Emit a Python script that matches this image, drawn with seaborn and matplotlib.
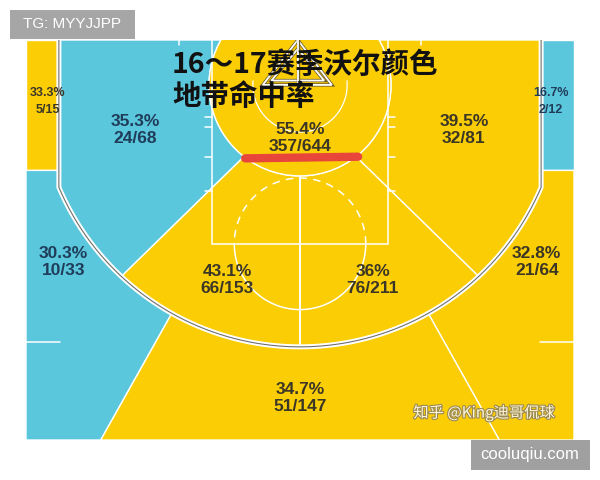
import numpy as np
import matplotlib.pyplot as plt
import matplotlib.patheffects as pe
from matplotlib.patches import Polygon, Circle, Arc, Rectangle
import seaborn as sns

# zone stats (Wall, 16-17 season)
zones = ["left_corner3", "right_corner3", "left_base_mid", "paint", "right_base_mid",
         "left_wing3", "left_elbow_mid", "right_elbow_mid", "right_wing3", "top3"]
made = [5, 2, 24, 357, 32, 10, 66, 76, 21, 51]
attempts = [15, 12, 68, 644, 81, 33, 153, 211, 64, 147]
hot = [True, False, False, True, True, False, True, True, True, True]

title_lines = ["16～17赛季沃尔颜色", "地带命中率"]

YELLOW = "#fbcd05"
BLUE = "#5bc7dd"
TXT_HOT = "#3b3626"
TXT_COLD = "#1f3c58"

# court geometry in feet, basket at origin, y grows toward half court
TOP, BOTTOM = -4.1, 32.4
R3, CX, R_IN = 23.9, 22.0, 8.3
CORNER_Y = 7.8
BREAK = np.degrees(np.arcsin(CX / R3))
YB = R3 * np.cos(np.radians(BREAK))
WING = 29.3
MID_IN, MID_OUT = 38.0, 43.0
A_TOP = np.degrees(np.arccos(TOP / R_IN))
XW = BOTTOM * np.tan(np.radians(WING))


def arc(r, a0, a1, n=80, cx=0.0, cy=0.0):
    a = np.radians(np.linspace(a0, a1, n))
    return np.column_stack([cx + r * np.sin(a), cy + r * np.cos(a)])


def mirror(p):
    p = np.array(p, dtype=float)
    p[:, 0] *= -1
    return p


left_corner3 = np.array([(-25, TOP), (-CX, TOP), (-CX, CORNER_Y), (-25, CORNER_Y)])
left_wing3 = np.vstack([[(-25, CORNER_Y), (-CX, CORNER_Y), (-CX, YB)],
                        arc(R3, -BREAK, -WING), [(-XW, BOTTOM), (-25, BOTTOM)]])
top3 = np.vstack([[(-XW, BOTTOM)], arc(R3, -WING, WING), [(XW, BOTTOM)]])
left_base_mid = np.vstack([[(-CX, TOP), (-CX, YB)], arc(R3, -BREAK, -MID_OUT),
                           arc(R_IN, -MID_IN, -A_TOP)])
left_elbow_mid = np.vstack([arc(R_IN, 0, -MID_IN), arc(R3, -MID_OUT, 0)])

shapes = {
    "left_corner3": left_corner3,
    "right_corner3": mirror(left_corner3),
    "left_base_mid": left_base_mid,
    "right_base_mid": mirror(left_base_mid),
    "left_wing3": left_wing3,
    "right_wing3": mirror(left_wing3),
    "left_elbow_mid": left_elbow_mid,
    "right_elbow_mid": mirror(left_elbow_mid),
    "top3": top3,
}

# label anchors (feet)
label_pos = {
    "left_corner3": (-23.0, 1.5), "right_corner3": (22.9, 1.5),
    "left_base_mid": (-15.0, 4.1), "paint": (0.0, 4.85), "right_base_mid": (14.95, 4.1),
    "left_wing3": (-21.6, 16.15), "left_elbow_mid": (-6.65, 17.8),
    "right_elbow_mid": (6.65, 17.8), "right_wing3": (21.6, 16.15), "top3": (0.0, 28.6),
}

sns.set_theme(style="white")
plt.rcParams["font.family"] = ["Liberation Sans", "Noto Sans CJK SC", "DejaVu Sans"]

fig = plt.figure(figsize=(6, 4.8), dpi=100)
ax = fig.add_axes([26 / 600, 40 / 480, 548 / 600, 400 / 480])
ax.set_xlim(-25, 25)
ax.set_ylim(BOTTOM, TOP)
ax.set_aspect("auto")
ax.axis("off")

line_kw = dict(color="white", lw=1.1, zorder=3)

for name, is_hot in zip(zones, hot):
    c = YELLOW if is_hot else BLUE
    if name == "paint":
        ax.add_patch(Circle((0, 0), R_IN, fc=c, ec="white", lw=1.0, zorder=2))
    else:
        ax.add_patch(Polygon(shapes[name], closed=True, fc=c, ec="white", lw=1.0, zorder=1))

# lane, free throw circle, restricted arc, hash marks
ax.plot([-8, -8, 8, 8], [TOP, 14.5, 14.5, TOP], **line_kw)
ax.plot(*arc(6, -90, 90, cy=14.5).T, **line_kw)
ax.plot(*arc(6, 90, 270, cy=14.5).T, color="white", lw=1.1, ls=(0, (5, 4)), zorder=3)
ax.plot(*arc(4.3, -95, 95).T, color="white", lw=0.9, zorder=3)
ax.plot([0, 0], [R_IN, R3], **line_kw)
for hy in [2.9, 3.8, 6.6, 9.7]:
    ax.plot([-8.7, -8], [hy, hy], **line_kw)
    ax.plot([8, 8.7], [hy, hy], **line_kw)
for sx in [-1, 1]:
    ax.plot([sx * 25, sx * 21.9], [23.5, 23.5], **line_kw)
    ax.plot([sx * 11, sx * 11], [TOP, -3.6], **line_kw)

# three point line (white with grey core)
three = np.vstack([[(-CX, TOP), (-CX, YB)], arc(R3, -BREAK, BREAK), [(CX, YB), (CX, TOP)]])
ax.plot(*three.T, color="white", lw=3.6, zorder=4, solid_capstyle="butt")
ax.plot(*three.T, color="#6f6f6f", lw=0.8, zorder=5)

# stanchion triangle near the rim
tri_fx = [(-0.2, -4.1), (-3.4, 0.0), (2.9, 0.0)]
tri_in = [(-0.2, -3.3), (-2.6, -0.4), (2.2, -0.4)]
for tri in [tri_fx, tri_in]:
    ax.add_patch(Polygon(tri, closed=True, fill=False, ec="white", lw=1.3, zorder=6,
                         path_effects=[pe.Stroke(linewidth=2.4, foreground="#6b5a2a"), pe.Normal()]))
ax.plot([-0.2, -0.2], [TOP, 0.0], color="white", lw=1.3, zorder=6,
        path_effects=[pe.Stroke(linewidth=2.4, foreground="#6b5a2a"), pe.Normal()])

# red underline under the paint value
ax.plot([-5.0, 5.3], [6.7, 6.55], color="#e8463b", lw=6, solid_capstyle="round", zorder=7)

for name, m, a, is_hot in zip(zones, made, attempts, hot):
    x, y = label_pos[name]
    p = f"{100 * m / a:.1f}".rstrip("0").rstrip(".")
    small = name.endswith("corner3")
    fs = 9 if small else 12.5
    d = 0.78
    col = TXT_HOT if is_hot else TXT_COLD
    ax.text(x, y - d, f"{p}%", ha="center", va="center", fontsize=fs,
            fontweight="bold", color=col, zorder=8)
    ax.text(x, y + d, f"{m}/{a}", ha="center", va="center", fontsize=fs,
            fontweight="bold", color=col, zorder=8)

cjk = ["Noto Sans CJK SC", "DejaVu Sans"]
fig.text(172 / 600, 1 - 65 / 480, title_lines[0], fontsize=20.5, fontweight="bold",
         family=cjk, color="#111111", ha="left", va="center", zorder=10)
fig.text(172 / 600, 1 - 97 / 480, title_lines[1], fontsize=20.5, fontweight="bold",
         family=cjk, color="#111111", ha="left", va="center", zorder=10)

fig.text(484 / 600, 1 - 413 / 480, "知乎 @King迪哥侃球", fontsize=11, family=cjk,
         color="#fff6d8", ha
="center", va="center", zorder=10,
         path_effects=[pe.Stroke(linewidth=1.6, foreground="#9a8a55"), pe.Normal()])

# watermark boxes
fig.add_artist(Rectangle((10 / 600, 1 - 39 / 480), 125 / 600, 29 / 480,
                         transform=fig.transFigure, fc="#a6a6a6", ec="none", zorder=11))
fig.text(72 / 600, 1 - 24.5 / 480, "TG: MYYJJPP", fontsize=11, color="white",
         ha="center", va="center", zorder=12)
fig.add_artist(Rectangle((471 / 600, 1 - 470 / 480), 119 / 600, 30 / 480,
                         transform=fig.transFigure, fc="#a0a0a0", ec="none", zorder=11))
fig.text(530 / 600, 1 - 455 / 480, "cooluqiu.com", fontsize=12, color="white",
         ha="center", va="center", zorder=12)

fig.savefig("out.png", dpi=100)
